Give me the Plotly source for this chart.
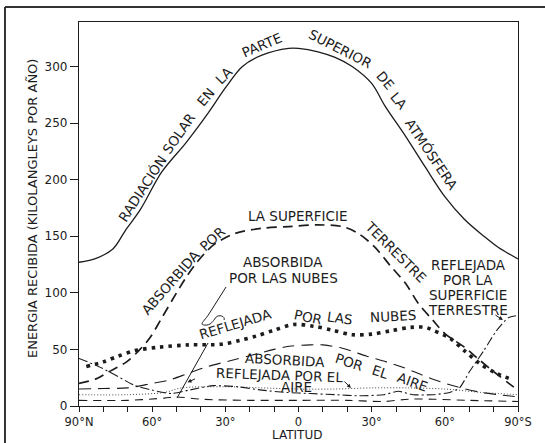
import plotly.graph_objects as go

# ---- data (latitude: +90 = 90°N ... -90 = 90°S; values in kilolangleys/año) ----
lat_solar = [90, 83, 76, 71, 65, 56, 46, 37, 30, 23, 15, 4, 0, -8, -15, -22, -30, -35.5, -44, -52, -60, -68, -76, -82, -90]
val_solar = [127, 130.5, 139, 155, 173, 207, 233, 259, 281, 300, 310, 316, 316, 313, 308, 300, 285, 265, 238, 211, 185, 165, 150, 140, 130]

lat_sup = [90, 83, 78, 70.5, 65, 61, 56, 50, 46, 42, 38, 34, 26, 15, 4, -8, -18, -24.5, -31, -38, -44, -49, -55, -60, -68, -74, -82, -90]
val_sup = [20, 24, 30, 39, 50, 60, 78, 100, 114, 126, 136, 143.7, 152.5, 157, 158.5, 160, 158.5, 152.5, 141, 123, 108, 91, 76, 64, 52, 41, 27, 14]

lat_refl_nubes = [87, 80, 74, 67, 57, 45, 32, 24, 17, 10, 2, -6, -14, -22, -30, -38, -46, -52, -55, -62, -68, -74, -81, -88]
val_refl_nubes = [35, 39, 44, 49, 52, 54, 54.5, 58, 62, 67, 72, 70.5, 67, 63, 63.5, 66.5, 69.5, 69.5, 67, 60, 49, 38, 29, 23]

lat_abs_aire = [90, 80, 70, 60, 53, 45, 37, 28, 19, 10, 3, -5, -10, -18, -28, -36, -43, -50, -56, -65, -75, -82, -90]
val_abs_aire = [15, 15.5, 16, 20, 23, 29, 35, 40, 45, 50, 53, 54, 54, 51, 44, 39, 34, 28, 23, 17, 12, 10, 8]

lat_refl_aire = [90, 70, 55, 48, 30, 15, 0, -15, -30, -45, -60, -75, -90]
val_refl_aire = [10, 10, 12, 16, 17, 16, 15, 15, 16, 16, 15, 12, 10]

lat_abs_nubes = [90, 70, 55, 50, 40, 20, 0, -20, -35, -45, -55, -70, -90]
val_abs_nubes = [5, 5, 7, 8, 6, 5, 5, 5, 4, 6, 6, 5, 4]

lat_refl_sup = [90, 82, 74, 67, 60, 52, 45, 35, 25, 15, 5, -5, -15, -25, -35, -41, -47, -55, -62, -66, -70, -76, -81, -86, -90]
val_refl_sup = [42, 35, 26, 18, 14, 11, 14, 18, 17, 14, 12, 11, 10, 9, 10, 13, 10, 10, 12, 16, 30, 49, 66, 78, 80]

x_tickvals = [90, 80, 70, 60, 50, 40, 30, 20, 10, 0, -10, -20, -30, -40, -50, -60, -70, -80, -90]
x_ticktext = ["90°N", "", "", "60°", "", "", "30°", "", "", "0", "", "", "30°", "", "", "60°", "", "", "90°S"]
y_tickvals = [0, 50, 100, 150, 200, 250, 300]

INK = "#1c1c1c"
FONT = "DejaVu Sans"

fig = go.Figure()

def add_line(lat, val, dash, width, color=INK, smoothing=0.9):
    fig.add_trace(go.Scatter(
        x=lat, y=val, mode="lines",
        line=dict(color=color, width=width, dash=dash, shape="spline", smoothing=smoothing),
        hoverinfo="skip", showlegend=False))

add_line(lat_solar, val_solar, "solid", 1.3)
add_line(lat_sup, val_sup, "10px,6px", 1.7)
add_line(lat_refl_nubes, val_refl_nubes, "3.5px,5px", 3.6)
add_line(lat_abs_aire, val_abs_aire, "12px,7px", 1.1)
add_line(lat_refl_aire, val_refl_aire, "1px,2px", 1.0, color="#444")
add_line(lat_abs_nubes, val_abs_nubes, "8px,6px", 1.1)
add_line(lat_refl_sup, val_refl_sup, "9px,3px,2px,3px", 1.1, smoothing=0.6)

# ---- curve labels ----
labels = [
    ("RADIACIÓN", 64.3, 192.4, -57), ("SOLAR", 48.9, 241, -55), ("EN", 38.2, 273.3, -50),
    ("LA", 30.4, 292.5, -45), ("PARTE", 15.1, 319, -23), ("SUPERIOR", -17.4, 315.5, 27),
    ("DE", -35.5, 288, 50), ("LA", -41.2, 269.5, 50), ("ATMÓSFERA", -54.9, 222.5, 56),
    ("ABSORBIDA", 52.5, 110, -49), ("POR", 35.5, 148, -42), ("LA SUPERFICIE", 0.2, 168, 0),
    ("TERRESTRE", -40, 136.3, 45),
    ("ABSORBIDA", 6.2, 127.5, 0), ("POR LAS NUBES", 6.2, 113.4, 0),
    ("REFLEJADA", 26, 72.5, -17), ("POR", -3.9, 78.9, 12), ("LAS", -17, 77.5, 8), ("NUBES", -38.9, 79.5, -3),
    ("ABSORBIDA", 5.4, 41, 3), ("POR", -20.8, 38.6, 18), ("EL", -33.8, 29.7, 18), ("AIRE", -46.8, 20.9, 20),
    ("REFLEJADA POR EL", 7.9, 27.4, 2), ("AIRE", 1, 16.5, 0),
    ("REFLEJADA", -69.6, 124.6, 0), ("POR LA", -69.6, 111.4, 0), ("SUPERFICIE", -69.6, 98.2, 0),
    ("TERRESTRE", -69.6, 84.9, 0),
]
for txt, x, y, ang in labels:
    fig.add_annotation(x=x, y=y, text=txt, textangle=ang, showarrow=False,
                       font=dict(family=FONT, size=13.5, color=INK),
                       xanchor="center", yanchor="middle")

# small arrows
arrows = [(-21.5, 15.9, -8, -8), (-83.8, 76, -9, -6), (45.5, 21, 9, -4)]
for x, y, ax, ay in arrows:
    fig.add_annotation(x=x, y=y, ax=ax, ay=ay, text="", showarrow=True,
                       arrowhead=2, arrowsize=0.8, arrowwidth=1, arrowcolor=INK)

# leader of "ABSORBIDA POR LAS NUBES"
fig.add_shape(type="path", xref="x", yref="y",
              path="M 29.7,105.2 L 36.5,82 C 38.5,75 41,72 38.5,71.5 C 36,71 35,75 34,78 C 33,81 30,80 30.5,76",
              line=dict(color=INK, width=1))
fig.add_shape(type="line", xref="x", yref="y", x0=37.1, y0=55.7, x1=49.8, y1=7.1,
              line=dict(color=INK, width=1))

# outer scan frame
fig.add_shape(type="line", xref="paper", yref="paper", x0=-0.1686, y0=1.039, x1=1.07, y1=1.039,
              line=dict(color="#333", width=2))
fig.add_shape(type="line", xref="paper", yref="paper", x0=-0.1686, y0=1.039, x1=-0.1686, y1=-0.1,
              line=dict(color="#333", width=2))

# axis titles
fig.add_annotation(xref="paper", yref="paper", x=-0.107, y=0.513, textangle=-90,
                   text="ENERGIA RECIBIDA (KILOLANGLEYS POR AÑO)", showarrow=False,
                   font=dict(family=FONT, size=13, color=INK), xanchor="center", yanchor="middle")
fig.add_annotation(xref="paper", yref="paper", x=0.4966, y=-0.076, text="LATITUD", showarrow=False,
                   font=dict(family=FONT, size=12, color=INK), xanchor="center", yanchor="middle")

fig.update_layout(
    width=545, height=443,
    margin=dict(l=79, r=27, t=22, b=37),
    paper_bgcolor="white", plot_bgcolor="white",
    font=dict(family=FONT, color=INK),
    xaxis=dict(range=[90, -90], tickvals=x_tickvals, ticktext=x_ticktext,
               ticks="outside", ticklen=5, tickwidth=1.2, tickcolor=INK,
               showline=True, linecolor=INK, linewidth=1.3, mirror=True,
               showgrid=False, zeroline=False, tickfont=dict(size=11.5, color=INK)),
    yaxis=dict(range=[0, 339.3], tickvals=y_tickvals,
               ticks="outside", ticklen=8, tickwidth=1.2, tickcolor=INK,
               showline=True, linecolor=INK, linewidth=1.3, mirror=True,
               showgrid=False, zeroline=False, tickfont=dict(size=12, color=INK)),
)

fig.write_html("out.html", config={"displayModeBar": False},
               post_script="document.body.style.margin='0';document.body.style.overflow='hidden';")
